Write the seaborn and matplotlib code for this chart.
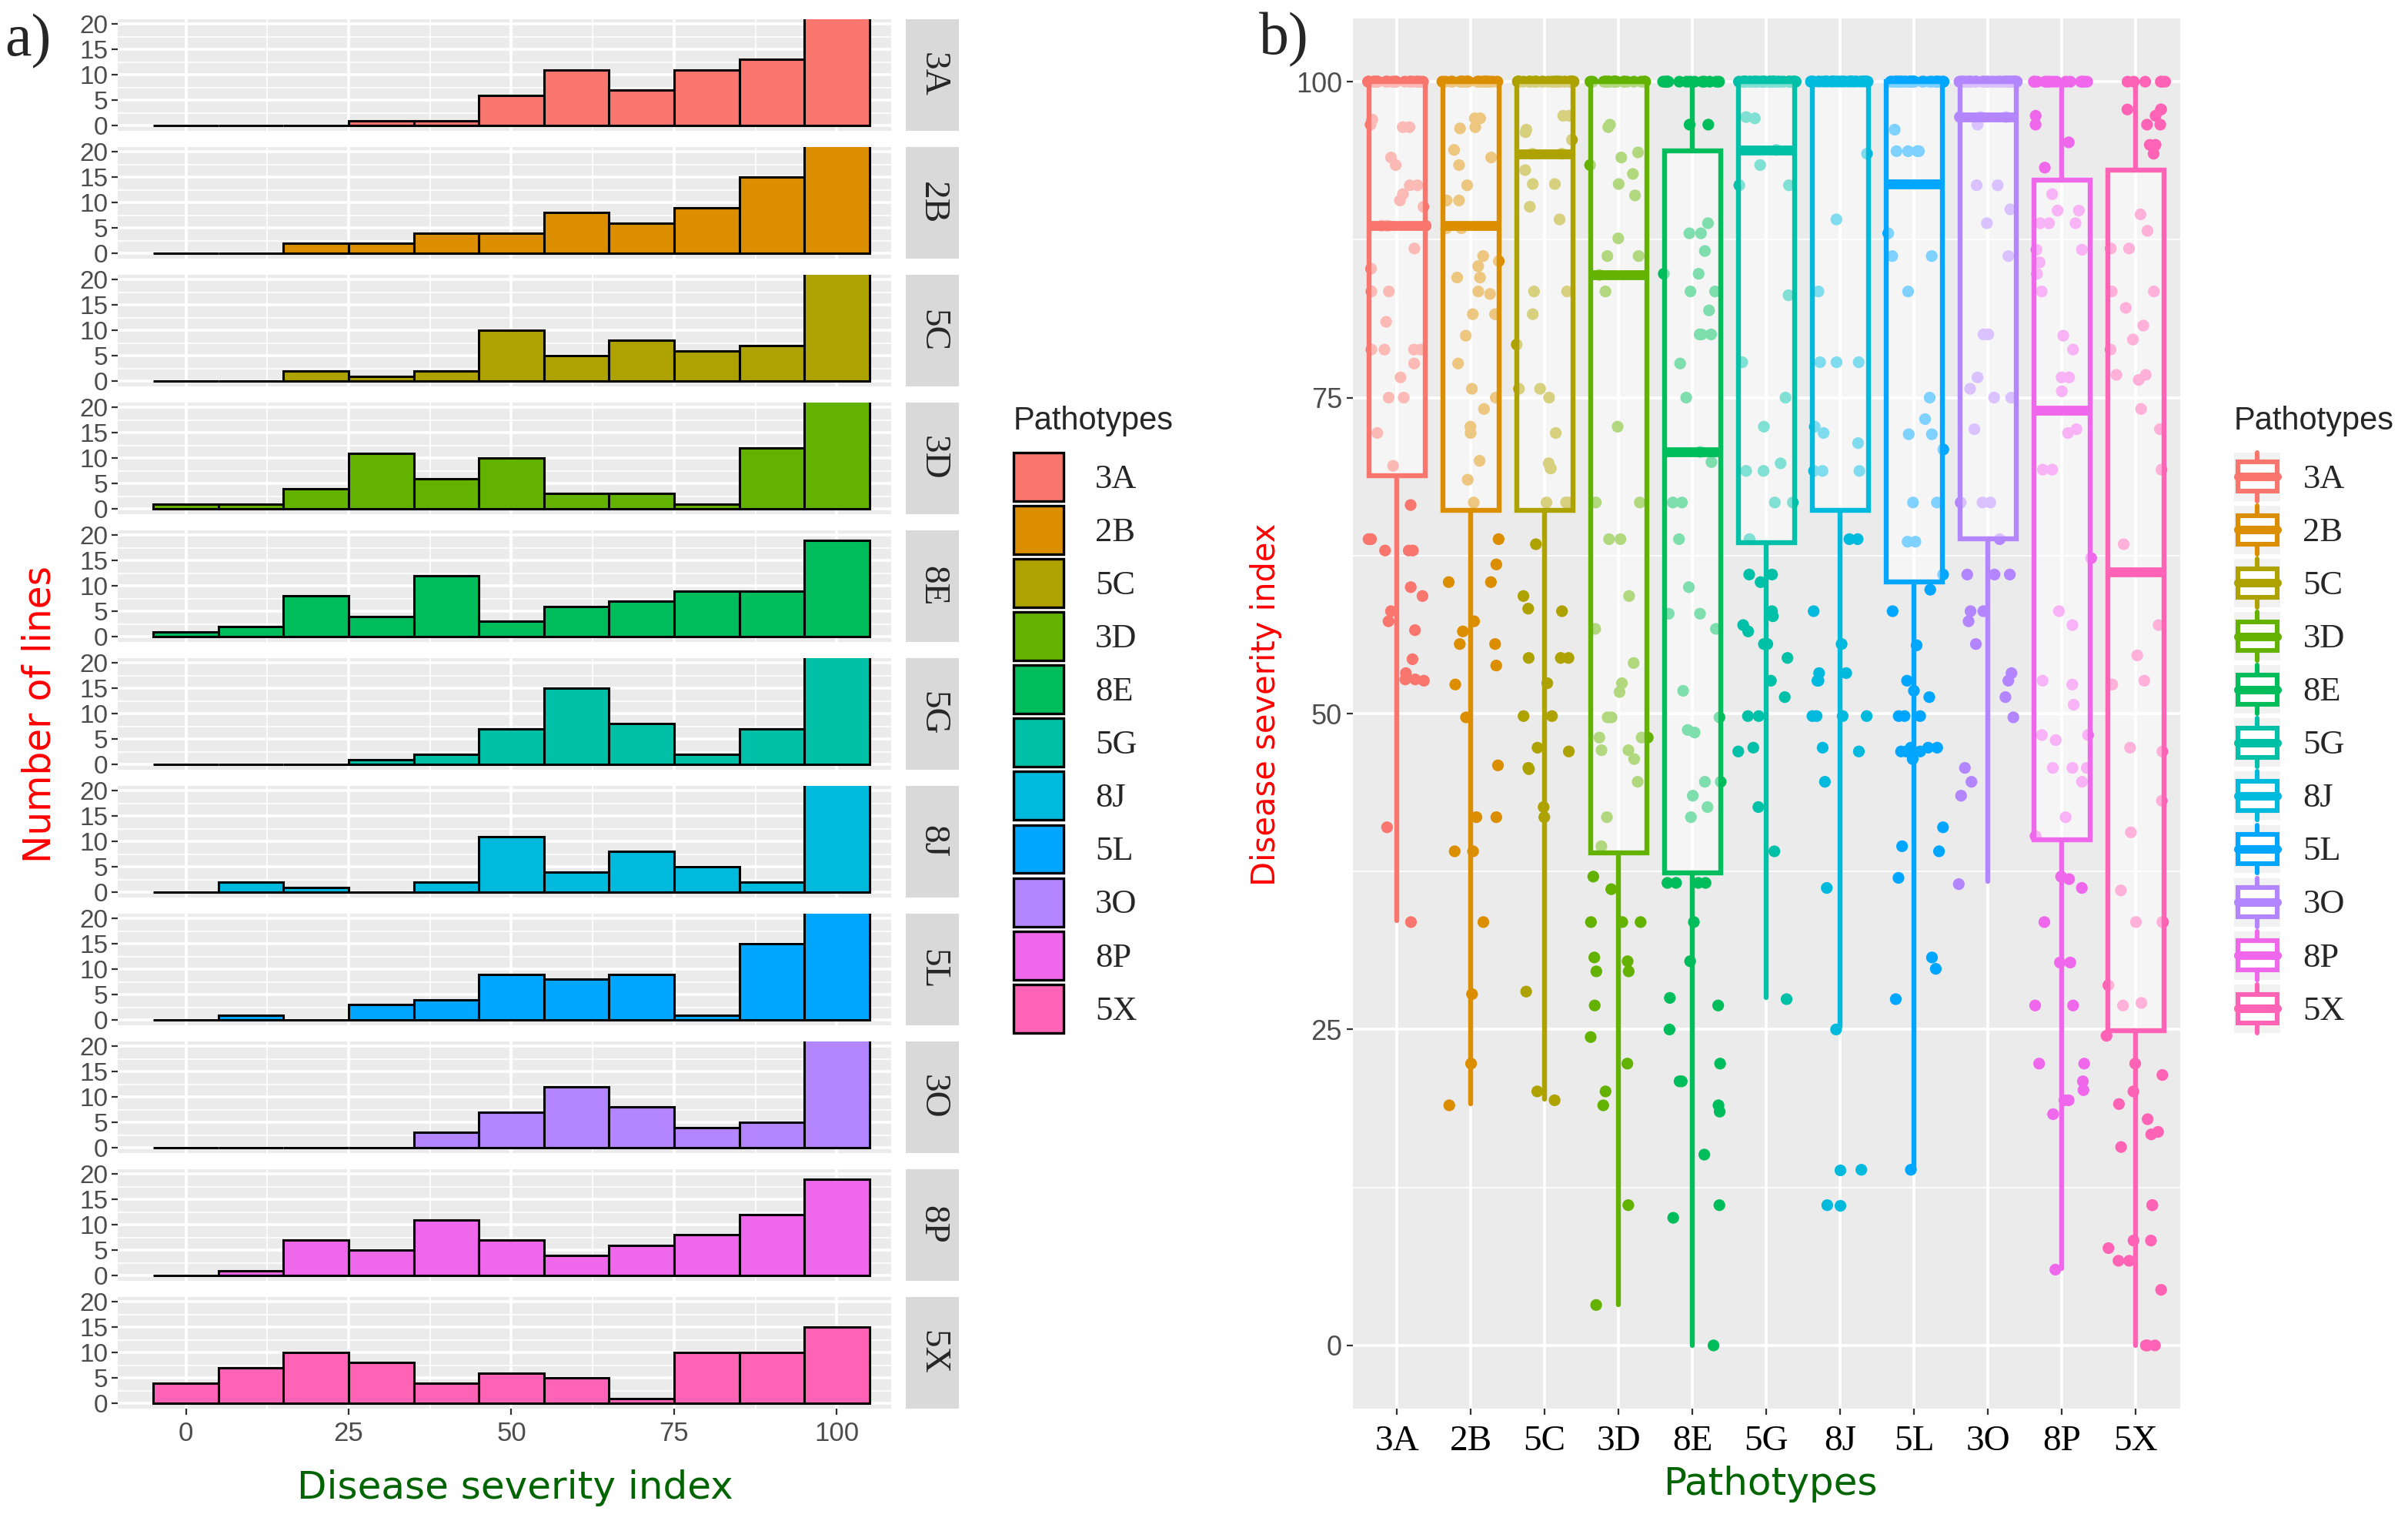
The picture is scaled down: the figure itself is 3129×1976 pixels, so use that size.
import numpy as np
import pandas as pd
import matplotlib
matplotlib.use("Agg")
import matplotlib.pyplot as plt
import seaborn as sns
from matplotlib.patches import Patch, Rectangle
from matplotlib.lines import Line2D
from matplotlib.legend_handler import HandlerBase

# ggplot-like look
sns.set_theme(style="darkgrid", rc={"axes.facecolor": "#EBEBEB", "grid.color": "white"})
plt.rcParams["font.family"] = ["Liberation Sans", "DejaVu Sans"]

pathotypes = ["3A", "2B", "5C", "3D", "8E", "5G", "8J", "5L", "3O", "8P", "5X"]
colors = ["#F8766D", "#DB8E00", "#AEA200", "#64B200", "#00BD5C", "#00C1A7",
          "#00BADE", "#00A6FF", "#B385FF", "#EF67EB", "#FF63B6"]

# histogram counts per 10-unit bin (centres 0..100), panel a)
bin_centers = [0, 10, 20, 30, 40, 50, 60, 70, 80, 90, 100]
counts_3A = [0, 0, 0, 1, 1, 6, 11, 7, 11, 13, 30]
counts_2B = [0, 0, 2, 2, 4, 4, 8, 6, 9, 15, 30]
counts_5C = [0, 0, 2, 1, 2, 10, 5, 8, 6, 7, 40]
counts_3D = [1, 1, 4, 11, 6, 10, 3, 3, 1, 12, 28]
counts_8E = [1, 2, 8, 4, 12, 3, 6, 7, 9, 9, 19]
counts_5G = [0, 0, 0, 1, 2, 7, 15, 8, 2, 7, 42]
counts_8J = [0, 2, 1, 0, 2, 11, 4, 8, 5, 2, 48]
counts_5L = [0, 1, 0, 3, 4, 9, 8, 9, 1, 15, 36]
counts_3O = [0, 0, 0, 0, 3, 7, 12, 8, 4, 5, 41]
counts_8P = [0, 1, 7, 5, 11, 7, 4, 6, 8, 12, 19]
counts_5X = [4, 7, 10, 8, 4, 6, 5, 1, 10, 10, 15]

# box statistics, panel b)
box_q1 = [68.8, 66.1, 66.1, 39.0, 37.4, 63.5, 66.1, 60.4, 63.8, 40.0, 24.9]
box_med = [88.6, 88.6, 94.3, 84.7, 70.7, 94.6, 100.0, 91.9, 97.2, 74.0, 61.2]
box_q3 = [100, 100, 100, 100, 94.5, 100, 100, 100, 100, 92.2, 93.0]
whisk_lo = [33.6, 19.1, 19.5, 3.2, 0.0, 27.5, 25.2, 13.9, 36.7, 6.1, 0.0]
whisk_hi = [100, 100, 100, 100, 100, 100, 100, 100, 100, 100, 100]
fliers_8J = [13.9, 11.1]

# jittered observations, panel b)
dsi_3A = [100] * 25 + [97.0, 96.4, 96.4, 96.6, 93.4, 94.0, 91.8, 91.8, 91.1, 90.6, 90.1, 88.6, 88.6,
                       88.6, 86.8, 85.2, 83.4, 83.4, 81.0, 78.8, 78.8, 78.8, 78.8, 77.7, 76.6, 75.0,
                       75.0, 72.2, 69.6, 66.5, 63.8, 63.8, 62.9, 62.9, 62.9, 60.0, 59.3, 58.1, 57.3,
                       56.6, 54.3, 53.2, 52.7, 52.7, 52.6, 41.0, 33.5]
dsi_2B = [100] * 25 + [97.1, 97.1, 96.4, 96.3, 94.6, 94.0, 93.4, 91.8, 90.6, 90.6, 88.4, 88.4, 86.2,
                       85.8, 85.4, 84.5, 84.5, 83.4, 83.2, 81.6, 81.6, 79.9, 77.7, 75.7, 75.0, 74.1,
                       72.7, 72.2, 70.0, 68.5, 66.7, 63.8, 61.8, 60.4, 60.4, 57.3, 56.5, 55.5, 55.5,
                       53.8, 52.3, 49.7, 45.9, 41.8, 41.8, 39.1, 39.1, 33.5, 27.8, 22.3, 19.0]
dsi_5C = [100] * 35 + [97.3, 97.3, 96.2, 96.0, 95.4, 94.3, 94.3, 93.0, 91.9, 91.9, 90.1, 89.1, 83.4,
                       83.4, 81.6, 79.2, 75.7, 75.7, 75.0, 72.2, 69.8, 69.4, 69.4, 66.7, 66.7, 66.7,
                       63.4, 59.3, 58.3, 58.1, 54.4, 54.4, 54.4, 52.4, 49.8, 49.8, 47.3, 47.0, 45.7,
                       45.6, 42.6, 41.8, 28.0, 20.1, 19.4]
dsi_3D = [100] * 22 + [96.6, 96.4, 94.4, 94.0, 93.4, 92.7, 91.9, 91.0, 87.6, 86.2, 86.2, 84.7, 83.4,
                       72.7, 66.7, 66.7, 63.8, 63.8, 59.3, 56.7, 54.0, 52.4, 51.7, 49.7, 49.7, 48.1,
                       48.1, 48.1, 47.1, 47.1, 46.4, 44.6, 41.8, 39.5, 37.1, 36.1, 33.5, 33.5, 33.5,
                       30.7, 30.4, 29.6, 29.6, 26.9, 24.4, 22.3, 20.1, 19.0, 11.1, 3.2]
dsi_8E = [100] * 14 + [96.6, 96.6, 88.8, 88.0, 88.0, 86.6, 84.8, 84.8, 83.4, 83.4, 81.9, 80.0, 80.0,
                       80.0, 77.7, 75.0, 70.7, 69.9, 66.7, 66.7, 63.8, 60.0, 57.9, 57.9, 56.7, 51.8,
                       49.7, 48.7, 48.5, 44.6, 44.6, 43.5, 42.6, 41.8, 36.6, 36.6, 36.6, 36.6, 33.5,
                       30.4, 27.5, 26.9, 25.0, 22.3, 20.9, 20.9, 19.0, 18.5, 15.1, 11.1, 10.1, 0.0]
dsi_5G = [100] * 38 + [97.1, 97.2, 94.6, 93.4, 91.8, 91.8, 83.1, 77.8, 75.0, 72.7, 69.8, 69.2, 69.2,
                       66.7, 66.7, 63.8, 61.0, 61.0, 60.4, 58.1, 57.7, 57.0, 56.5, 55.5, 55.5, 54.4,
                       52.6, 51.3, 49.8, 49.8, 47.3, 47.0, 42.6, 39.1, 27.4]
dsi_8J = [100] * 45 + [94.3, 89.1, 83.4, 77.8, 77.8, 77.8, 72.7, 72.2, 71.4, 69.2, 69.2, 69.2, 63.8,
                       63.8, 58.1, 55.5, 53.2, 53.2, 52.6, 52.6, 49.8, 49.8, 49.8, 49.8, 47.3, 47.0,
                       44.6, 36.2, 25.0, 13.9, 11.1]
dsi_5L = [100] * 32 + [96.2, 94.5, 94.5, 94.5, 94.5, 88.0, 86.2, 86.2, 83.4, 75.0, 73.3, 72.1, 72.1,
                       70.9, 66.7, 66.7, 63.6, 63.6, 61.0, 59.8, 58.1, 55.4, 52.6, 51.8, 51.3, 49.8,
                       49.8, 49.8, 47.3, 47.3, 47.3, 47.0, 47.0, 47.0, 46.4, 41.0, 39.5, 39.1, 37.0,
                       30.7, 29.8, 27.4, 13.9]
dsi_3O = [100] * 36 + [97.2, 97.2, 97.2, 96.6, 91.8, 91.8, 89.9, 88.8, 86.2, 80.0, 80.0, 76.6, 75.7,
                       75.0, 75.0, 72.5, 66.7, 66.7, 66.7, 63.8, 61.0, 61.0, 61.0, 58.1, 58.1, 57.3,
                       55.5, 53.2, 52.6, 51.3, 49.7, 45.7, 44.6, 43.5, 36.5]
dsi_8P = [100] * 14 + [97.3, 96.6, 95.2, 93.2, 91.1, 89.8, 89.8, 88.8, 88.8, 88.8, 86.7, 86.7, 85.7,
                       84.8, 83.4, 79.9, 78.8, 76.6, 76.6, 75.5, 72.5, 72.2, 69.3, 69.3, 62.3, 58.1,
                       57.0, 52.6, 52.3, 50.7, 48.3, 48.3, 47.9, 45.7, 45.7, 45.7, 44.6, 41.8, 40.3,
                       37.1, 36.9, 36.2, 33.5, 30.3, 30.3, 26.9, 26.9, 22.3, 22.3, 20.9, 20.2, 19.4,
                       19.4, 18.3, 6.0]
dsi_5X = [100] * 6 + [97.8, 97.8, 97.8, 97.3, 96.6, 96.6, 95.0, 95.0, 94.3, 89.5, 88.2, 86.8, 86.8,
                      83.4, 83.4, 82.1, 80.7, 79.6, 78.8, 76.8, 76.8, 76.4, 74.1, 72.5, 69.3, 63.4,
                      57.0, 54.6, 52.6, 52.3, 47.3, 47.0, 43.1, 40.6, 36.0, 33.5, 33.5, 33.5, 28.5,
                      27.1, 26.9, 24.5, 22.3, 21.4, 20.1, 19.1, 17.9, 16.9, 16.7, 15.7, 11.1, 11.1,
                      8.3, 8.3, 7.7, 6.7, 6.7, 4.4, 0.0, 0.0, 0.0]

hist_counts = [counts_3A, counts_2B, counts_5C, counts_3D, counts_8E, counts_5G,
               counts_8J, counts_5L, counts_3O, counts_8P, counts_5X]
dsi_lists = [dsi_3A, dsi_2B, dsi_5C, dsi_3D, dsi_8E, dsi_5G,
             dsi_8J, dsi_5L, dsi_3O, dsi_8P, dsi_5X]
palette = dict(zip(pathotypes, colors))

W, H, DPI = 3129, 1976, 200
fig = plt.figure(figsize=(W / DPI, H / DPI), dpi=DPI)


def px_box(x0, y0, x1, y1):
    return [x0 / W, 1 - y1 / H, (x1 - x0) / W, (y1 - y0) / H]


TICK_GREY = "#4D4D4D"
SERIF = "Liberation Serif"
bin_edges = list(range(-5, 106, 10))

# ---- panel a): faceted histograms
for i, (pt, col, cnt) in enumerate(zip(pathotypes, colors, hist_counts)):
    top = 24.7 + i * 166
    ax = fig.add_axes(px_box(152.7, top, 1157.6, top + 145))
    hdf = pd.DataFrame({"DSI": bin_centers, "n": cnt})
    sns.histplot(data=hdf, x="DSI", weights="n", bins=bin_edges, color=col,
                 edgecolor="black", linewidth=1.1, alpha=1, ax=ax)
    ax.set_xlim(-10.5, 108.3)
    ax.set_ylim(-1, 21)
    ax.set_xlabel("")
    ax.set_ylabel("")
    ax.set_yticks([0, 5, 10, 15, 20])
    ax.set_yticks([2.5, 7.5, 12.5, 17.5], minor=True)
    ax.set_xticks([0, 25, 50, 75, 100])
    ax.set_xticks([12.5, 37.5, 62.5, 87.5], minor=True)
    ax.grid(which="major", color="white", linewidth=1.3)
    ax.grid(which="minor", color="white", linewidth=0.6)
    ax.set_axisbelow(True)
    for s in ax.spines.values():
        s.set_visible(False)
    ax.tick_params(axis="y", which="major", length=2.9, width=0.8, color="#333333",
                   labelsize=12, labelcolor=TICK_GREY, pad=1.5, left=True)
    ax.tick_params(which="minor", length=0)
    if i == len(pathotypes) - 1:
        ax.set_xticklabels(["0", "25", "50", "75", "100"])
        ax.tick_params(axis="x", which="major", length=2.9, width=0.8, color="#333333",
                       labelsize=12.5, labelcolor=TICK_GREY, pad=3, bottom=True)
    else:
        ax.tick_params(axis="x", which="major", length=0, labelbottom=False)

    sax = fig.add_axes(px_box(1177, top, 1246, top + 145))
    sax.set_facecolor("#D9D9D9")
    sax.set_xticks([])
    sax.set_yticks([])
    sax.grid(False)
    for s in sax.spines.values():
        s.set_visible(False)
    sax.text(0.5, 0.5, pt, rotation=-90, ha="center", va="center",
             family=SERIF, fontsize=17, transform=sax.transAxes)

fig.text(52 / W, 1 - 928 / H, "Number of lines", rotation=90, ha="center", va="center",
         color="red", fontsize=17.5, family="DejaVu Sans")
fig.text(669 / W, 1 - 1933 / H, "Disease severity index", ha="center", va="center",
         color="#006400", fontsize=18, family="DejaVu Sans")
fig.text(6 / W, 1 - 72 / H, "a)", ha="left", va="baseline", family=SERIF, fontsize=28)

leg_a = fig.legend([Patch(facecolor=c, edgecolor="black", linewidth=1.2) for c in colors],
                   pathotypes, loc="upper left", bbox_to_anchor=(1317 / W, 1 - 527 / H),
                   frameon=False, borderpad=0, borderaxespad=0, handlelength=1.46,
                   handleheight=1.8, labelspacing=0.14, handletextpad=0.92,
                   prop={"family": SERIF, "size": 16}, title="Pathotypes",
                   title_fontproperties={"family": "Liberation Sans", "size": 15},
                   alignment="left")
leg_a._legend_box.sep = 7.5

# ---- panel b): jitter + boxplots
df = pd.DataFrame({
    "Pathotypes": np.repeat(pathotypes, [len(v) for v in dsi_lists]),
    "DSI": np.concatenate(dsi_lists),
})
ax2 = fig.add_axes(px_box(1757.5, 24, 2833, 1830))
np.random.seed(11)
sns.stripplot(data=df, x="Pathotypes", y="DSI", hue="Pathotypes", order=pathotypes,
              hue_order=pathotypes, palette=palette, jitter=0.4, size=5.5,
              legend=False, ax=ax2, zorder=1)

for i, col in enumerate(colors):
    stats = {"q1": box_q1[i], "med": box_med[i], "q3": box_q3[i],
             "whislo": whisk_lo[i], "whishi": whisk_hi[i],
             "fliers": fliers_8J if pathotypes[i] == "8J" else []}
    ax2.bxp([stats], positions=[i], widths=0.76, patch_artist=True, showcaps=False,
            manage_ticks=False, zorder=3,
            boxprops={"facecolor": (1, 1, 1, 0.5), "edgecolor": col, "linewidth": 2.3},
            medianprops={"color": col, "linewidth": 4.6, "solid_capstyle": "butt"},
            whiskerprops={"color": col, "linewidth": 2.3},
            flierprops={"marker": "o", "markerfacecolor": col, "markeredgecolor": "none",
                        "markersize": 5.5})

ax2.set_xlim(-0.6, 10.6)
ax2.set_ylim(-5, 105)
ax2.set_xlabel("")
ax2.set_ylabel("")
ax2.set_yticks([0, 25, 50, 75, 100])
ax2.set_yticks([12.5, 37.5, 62.5, 87.5], minor=True)
ax2.set_xticks(range(len(pathotypes)))
ax2.set_xticklabels(pathotypes, family=SERIF, fontsize=17, color="black")
ax2.grid(which="major", color="white", linewidth=1.3)
ax2.grid(which="minor", axis="y", color="white", linewidth=0.6)
ax2.xaxis.grid(True, which="major", color="white", linewidth=1.3)
ax2.set_axisbelow(True)
for s in ax2.spines.values():
    s.set_visible(False)
ax2.tick_params(axis="y", which="major", length=2.9, width=0.8, color="#333333",
                labelsize=13, labelcolor=TICK_GREY, pad=2, left=True)
ax2.tick_params(axis="x", which="major", length=2.9, width=0.8, color="#333333",
                pad=5, bottom=True)
ax2.tick_params(which="minor", length=0)

fig.text(1645 / W, 1 - 915 / H, "Disease severity index", rotation=90, ha="center",
         va="center", color="red", fontsize=15, family="DejaVu Sans")
fig.text(2300 / W, 1 - 1928 / H, "Pathotypes", ha="center", va="center",
         color="#006400", fontsize=18, family="DejaVu Sans")
fig.text(1636 / W, 1 - 70 / H, "b)", ha="left", va="baseline", family=SERIF, fontsize=28)


class BoxKey(HandlerBase):
    def create_artists(self, legend, orig_handle, xdescent, ydescent, width, height,
                       fontsize, trans):
        col = orig_handle.get_edgecolor()
        x0, y0 = -xdescent, -ydescent
        bg = Rectangle((x0, y0), width, height, facecolor="#F2F2F2",
                       edgecolor="none", transform=trans)
        wl = Line2D([x0 + width / 2] * 2, [y0, y0 + height], color=col, lw=2.2,
                    transform=trans)
        box = Rectangle((x0 + 0.08 * width, y0 + 0.2 * height), 0.84 * width, 0.6 * height,
                        facecolor="white", edgecolor=col, lw=2.2, transform=trans)
        med = Line2D([x0 + 0.08 * width, x0 + 0.92 * width], [y0 + height / 2] * 2,
                     color=col, lw=4, transform=trans)
        return [bg, wl, box, med]


leg_b = fig.legend([Patch(facecolor="white", edgecolor=c) for c in colors], pathotypes,
                   handler_map={Patch: BoxKey()}, loc="upper left",
                   bbox_to_anchor=(2903 / W, 1 - 527 / H), frameon=False, borderpad=0,
                   borderaxespad=0, handlelength=1.36, handleheight=1.8, labelspacing=0.14,
                   handletextpad=0.65, prop={"family": SERIF, "size": 16}, title="Pathotypes",
                   title_fontproperties={"family": "Liberation Sans", "size": 15},
                   alignment="left")
leg_b._legend_box.sep = 7.5

fig.savefig("out.png", dpi=DPI)
